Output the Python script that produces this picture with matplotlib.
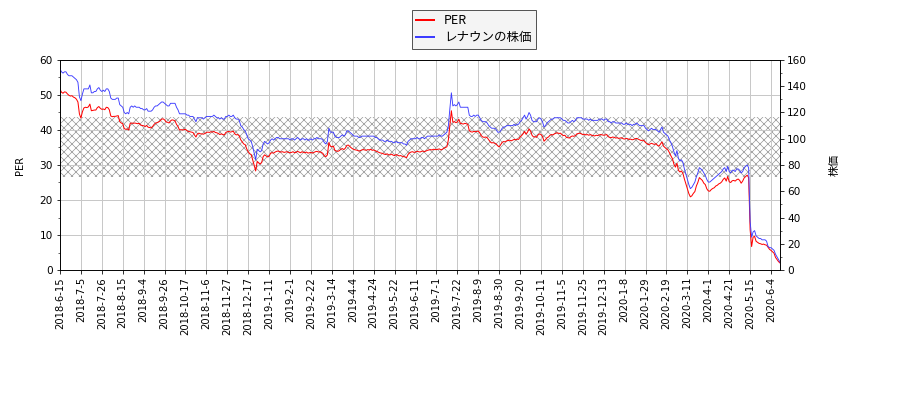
import numpy as np
import matplotlib
matplotlib.use("Agg")
from matplotlib import pyplot as plt
from matplotlib.ticker import MultipleLocator

plt.rcParams['font.family'] = ['DejaVu Sans', 'Noto Sans CJK JP']

# 日付ラベル（14営業日ごと）
tick_labels = [
    "2018-6-15", "2018-7-5", "2018-7-26", "2018-8-15", "2018-9-4", "2018-9-26",
    "2018-10-17", "2018-11-6", "2018-11-27", "2018-12-17", "2019-1-11", "2019-2-1",
    "2019-2-22", "2019-3-14", "2019-4-4", "2019-4-24", "2019-5-22", "2019-6-11",
    "2019-7-1", "2019-7-22", "2019-8-9", "2019-8-30", "2019-9-20", "2019-10-11",
    "2019-11-5", "2019-11-25", "2019-12-13", "2020-1-8", "2020-1-29", "2020-2-19",
    "2020-3-11", "2020-4-1", "2020-4-21", "2020-5-15", "2020-6-4",
]
tick_step = 14

# PER（左軸）
per = [
    51.6, 50.8, 50.5, 50.9, 50.8, 50.3, 49.9, 49.7, 49.8, 49.4, 49.2, 48.8, 48.0, 44.6,
    43.4, 45.2, 46.3, 46.5, 46.4, 46.6, 47.4, 45.5, 45.6, 45.7, 45.7, 46.4, 46.7, 46.2,
    45.9, 46.0, 45.8, 46.5, 46.4, 45.8, 44.0, 43.8, 43.9, 43.9, 44.0, 44.1, 42.4, 42.0,
    41.8, 40.4, 40.2, 40.3, 40.0, 41.9, 42.0, 41.9, 42.0, 41.9, 41.8, 41.9, 41.4, 41.3,
    41.2, 41.0, 41.3, 40.8, 40.7, 40.6, 41.0, 41.6, 42.0, 42.1, 42.3, 42.6, 43.1, 43.2,
    42.9, 42.3, 42.2, 42.0, 42.6, 42.9, 42.8, 42.6, 41.6, 41.0, 40.0, 40.1, 40.0, 40.1,
    40.2, 39.8, 39.6, 39.5, 39.4, 39.3, 38.6, 38.0, 38.9, 39.1, 38.9, 38.9, 38.8, 39.0,
    39.3, 39.4, 39.3, 39.5, 39.4, 39.6, 39.3, 39.2, 39.0, 38.7, 38.9, 38.7, 38.6, 39.3,
    39.5, 39.6, 39.4, 39.5, 39.7, 38.9, 38.6, 38.7, 38.3, 37.2, 36.6, 36.0, 35.8, 34.6,
    33.8, 33.2, 33.0, 31.5, 29.9, 28.3, 31.0, 30.6, 30.3, 30.7, 32.4, 32.9, 32.6, 32.3,
    32.5, 33.4, 33.5, 33.4, 33.7, 33.9, 34.0, 33.8, 33.7, 33.8, 33.6, 33.7, 33.8, 33.6,
    33.5, 33.6, 33.8, 33.5, 33.6, 33.9, 33.7, 33.5, 33.8, 33.6, 33.5, 33.7, 33.4, 33.5,
    33.6, 33.4, 33.6, 33.8, 33.9, 33.7, 33.8, 33.6, 33.3, 32.6, 32.4, 32.9, 36.4, 35.4,
    35.2, 35.4, 34.2, 34.0, 33.9, 34.1, 34.5, 34.7, 34.4, 34.8, 35.6, 35.7, 35.3, 34.9,
    34.6, 34.4, 34.3, 34.2, 34.0, 34.1, 34.3, 34.4, 34.3, 34.2, 34.4, 34.3, 34.5, 34.2,
    34.3, 34.1, 33.9, 33.7, 33.5, 33.4, 33.3, 33.1, 33.0, 33.2, 32.9, 32.9, 33.1, 32.8,
    32.7, 33.0, 32.8, 32.6, 32.7, 32.5, 32.4, 32.3, 32.1, 33.0, 33.5, 33.7, 33.8, 33.6,
    33.7, 33.9, 33.8, 33.7, 33.9, 34.0, 33.8, 34.0, 34.2, 34.3, 34.4, 34.3, 34.5, 34.4,
    34.4, 34.5, 34.6, 34.3, 34.5, 34.8, 35.0, 35.2, 37.2, 41.5, 45.5, 42.2, 42.4, 42.1,
    42.3, 43.1, 41.9, 41.8, 41.7, 41.9, 41.8, 41.6, 39.8, 39.5, 39.4, 39.6, 39.5, 39.6,
    39.7, 39.2, 38.4, 38.0, 37.9, 38.0, 37.8, 37.2, 36.6, 36.3, 36.4, 36.2, 36.0, 35.5,
    35.2, 35.8, 36.5, 36.7, 36.6, 36.9, 37.0, 37.1, 36.9, 37.1, 37.3, 37.2, 37.4, 37.3,
    38.0, 38.4, 38.9, 39.6, 38.8, 39.4, 40.3, 39.7, 38.5, 38.0, 38.1, 37.9, 38.6, 38.9,
    38.7, 38.2, 36.8, 37.2, 37.8, 38.0, 38.5, 38.7, 38.6, 38.9, 39.1, 39.2, 39.0, 39.1,
    38.7, 38.4, 38.5, 37.9, 37.8, 37.7, 38.1, 38.3, 38.2, 38.4, 38.9, 39.0, 39.1, 38.9,
    38.7, 38.8, 38.6, 38.7, 38.5, 38.7, 38.5, 38.4, 38.3, 38.5, 38.4, 38.6, 38.7, 38.6,
    38.5, 38.6, 38.7, 38.1, 37.9, 37.8, 38.0, 37.9, 37.7, 37.8, 37.6, 37.7, 37.8, 37.5,
    37.4, 37.6, 37.5, 37.3, 37.4, 37.2, 37.3, 37.5, 37.6, 37.4, 37.2, 37.0, 37.1, 36.9,
    36.4, 36.1, 35.8, 36.0, 36.2, 36.0, 35.9, 36.1, 35.6, 35.4, 36.0, 36.6, 35.4, 35.0,
    34.6, 34.3, 33.5, 32.6, 31.8, 30.2, 29.4, 30.5, 28.5, 28.0, 28.3, 27.6, 26.0, 24.6,
    23.2, 21.8, 20.9, 21.2, 21.9, 22.4, 24.0, 25.0, 26.4, 26.0, 25.6, 24.8, 24.4, 23.2,
    22.6, 22.5, 23.0, 23.3, 23.5, 24.0, 24.2, 24.6, 24.8, 25.2, 25.9, 26.3, 25.4, 26.7,
    25.2, 25.0, 25.5, 25.6, 25.4, 25.8, 26.0, 25.6, 24.8, 25.4, 26.3, 26.7, 27.1, 26.4,
    11.5, 6.7, 9.4, 9.6, 8.2, 7.9, 7.6, 7.5, 7.3, 7.4, 7.2, 7.1, 6.5, 5.9,
    5.6, 5.2, 4.8, 3.6, 3.0, 2.4, 2.0,
]

# 株価（右軸）
price = [
    153, 151, 150, 151, 151, 149, 148, 148, 148, 147, 146, 145, 143, 132,
    129, 134, 138, 138, 138, 138, 141, 135, 135, 136, 136, 138, 139, 137,
    136, 137, 136, 138, 138, 136, 131, 130, 130, 130, 131, 131, 126, 125,
    124, 120, 119, 120, 119, 124, 125, 124, 125, 124, 124, 124, 123, 123,
    122, 122, 123, 121, 121, 121, 122, 124, 125, 125, 126, 127, 128, 128,
    127, 126, 125, 125, 127, 127, 127, 127, 124, 122, 119, 119, 119, 119,
    119, 118, 118, 117, 117, 117, 115, 113, 116, 116, 116, 116, 115, 116,
    117, 117, 117, 117, 117, 118, 117, 116, 116, 115, 116, 115, 115, 117,
    117, 118, 117, 117, 118, 116, 115, 115, 114, 110, 109, 107, 106, 103,
    100, 99, 98, 94, 89, 84, 92, 91, 90, 91, 96, 98, 97, 96,
    97, 99, 100, 99, 100, 101, 101, 100, 100, 100, 100, 100, 100, 100,
    99, 100, 100, 99, 100, 101, 100, 99, 100, 100, 99, 100, 99, 99,
    100, 99, 100, 100, 101, 100, 100, 100, 99, 97, 96, 98, 108, 105,
    105, 105, 102, 101, 101, 101, 102, 103, 102, 103, 106, 106, 105, 104,
    103, 102, 102, 102, 101, 101, 102, 102, 102, 102, 102, 102, 102, 102,
    102, 101, 101, 100, 99, 99, 99, 98, 98, 99, 98, 98, 98, 97,
    97, 98, 97, 97, 97, 97, 96, 96, 95, 98, 99, 100, 100, 100,
    100, 101, 100, 100, 101, 101, 100, 101, 102, 102, 102, 102, 102, 102,
    102, 102, 103, 102, 102, 103, 104, 105, 110, 123, 135, 125, 126, 125,
    126, 128, 124, 124, 124, 124, 124, 124, 118, 117, 117, 118, 117, 118,
    118, 116, 114, 113, 113, 113, 112, 110, 109, 108, 108, 108, 107, 105,
    105, 106, 108, 109, 109, 110, 110, 110, 110, 110, 111, 110, 111, 111,
    113, 114, 116, 118, 115, 117, 120, 118, 114, 113, 113, 113, 115, 116,
    115, 113, 109, 110, 112, 113, 114, 115, 115, 116, 116, 116, 116, 116,
    115, 114, 114, 113, 112, 112, 113, 114, 113, 114, 116, 116, 116, 116,
    115, 115, 115, 115, 114, 115, 114, 114, 114, 114, 114, 115, 115, 115,
    114, 115, 115, 113, 113, 112, 113, 113, 112, 112, 112, 112, 112, 111,
    111, 112, 111, 111, 111, 110, 111, 111, 112, 111, 110, 110, 110, 110,
    108, 107, 106, 107, 108, 107, 107, 107, 106, 105, 107, 109, 105, 104,
    103, 102, 99, 97, 94, 90, 87, 91, 85, 83, 84, 82, 77, 73,
    69, 65, 62, 63, 65, 67, 71, 74, 78, 77, 76, 74, 72, 69,
    67, 67, 68, 69, 70, 71, 72, 73, 74, 75, 77, 78, 75, 79,
    75, 74, 76, 76, 75, 77, 77, 76, 74, 75, 78, 79, 80, 78,
    37, 25, 29, 30, 26, 25, 24, 24, 23, 23, 23, 22, 18, 17,
    17, 16, 15, 12, 10, 8, 6,
]

band_low, band_high = 26.7, 43.6

x = np.arange(len(per))

fig = plt.figure(figsize=(12.5, 400 / 72), dpi=72)
ax1 = fig.add_axes([60 / 900, 130 / 400, 720 / 900, 210 / 400])
ax2 = ax1.twinx()

plt.rcParams['hatch.linewidth'] = 0.6
ax1.axhspan(band_low, band_high, facecolor='none', edgecolor='#8a8a8a',
            hatch='xxx', linewidth=0, zorder=0)
l1, = ax1.plot(x, per, color='red', linewidth=1, label='PER')
l2, = ax2.plot(x, price, color='#3c3cff', linewidth=0.9, label='レナウンの株価')

ax1.set_xlim(0, len(per) - 1)
ax1.set_ylim(0, 60)
ax2.set_ylim(0, 160)
ax1.yaxis.set_major_locator(MultipleLocator(10))
ax1.yaxis.set_minor_locator(MultipleLocator(5))
ax2.yaxis.set_major_locator(MultipleLocator(20))
ax2.yaxis.set_minor_locator(MultipleLocator(10))
ax1.tick_params(labelsize=10.5)
ax2.tick_params(labelsize=10.5)

ax1.set_xticks(np.arange(len(tick_labels)) * tick_step)
ax1.set_xticklabels(tick_labels, rotation=90, fontsize=10)
ax1.grid(True, color='#c8c8c8', linewidth=1)
ax1.set_axisbelow(True)

ax1.set_ylabel('PER', labelpad=14)
ax2.set_ylabel('株価', labelpad=22, fontsize=11)

leg = fig.legend(handles=[l1, l2], loc='upper left',
                 bbox_to_anchor=(412 / 900, 1 - 10 / 400), borderaxespad=0,
                 fancybox=False, edgecolor='#555555', facecolor='#f4f4f4',
                 framealpha=1, handlelength=1.4, labelspacing=0.3,
                 borderpad=0.35,
                 prop={'family': ['Noto Sans CJK JP', 'DejaVu Sans'], 'size': 12.5})
for line in leg.get_lines():
    line.set_linewidth(2)

fig.savefig('out.png', dpi=72)
